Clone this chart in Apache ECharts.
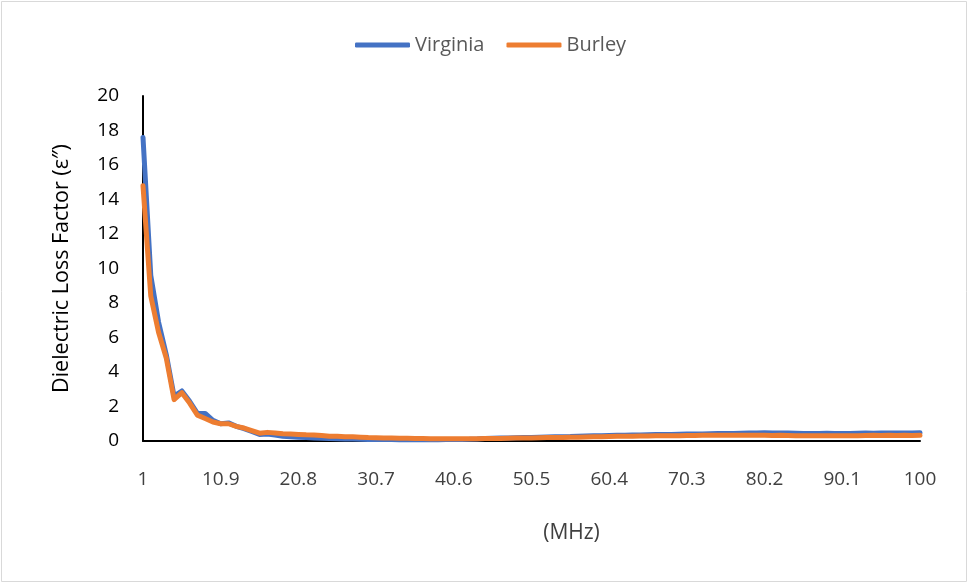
<!DOCTYPE html>
<html>
<head>
<meta charset="utf-8">
<script src="https://cdn.jsdelivr.net/npm/echarts@6/dist/echarts.min.js"></script>
<style>
  html, body { margin: 0; padding: 0; background: #fff; }
  #chart { width: 968px; height: 583px; }
</style>
</head>
<body>
<div id="chart"></div>
<script>
// x axis: 101 frequency points from 1 to 100 MHz, labels every 10th point
var tickLabels = ['1', '10.9', '20.8', '30.7', '40.6', '50.5', '60.4', '70.3', '80.2', '90.1', '100'];
var freqs = [];
for (var i = 0; i <= 100; i++) freqs.push(+(1 + 0.99 * i).toFixed(2));

// loss factor
var virginia = [
  17.6, 9.6, 6.9, 5.0, 2.6, 2.9, 2.3, 1.6, 1.6, 1.2,
  1.0, 1.05, 0.85, 0.72, 0.55, 0.38, 0.4, 0.35, 0.28, 0.25,
  0.22, 0.2, 0.18, 0.16, 0.14, 0.13, 0.12, 0.11, 0.1, 0.09,
  0.09, 0.08, 0.08, 0.07, 0.07, 0.07, 0.07, 0.07, 0.07, 0.08,
  0.08, 0.09, 0.1, 0.12, 0.15, 0.16, 0.17, 0.18, 0.19, 0.2,
  0.21, 0.22, 0.23, 0.24, 0.25, 0.26, 0.28, 0.29, 0.3, 0.31,
  0.32, 0.33, 0.34, 0.35, 0.35, 0.36, 0.37, 0.38, 0.38, 0.39,
  0.4, 0.41, 0.41, 0.42, 0.43, 0.44, 0.44, 0.45, 0.46, 0.47,
  0.48, 0.47, 0.46, 0.46, 0.45, 0.44, 0.43, 0.44, 0.45, 0.44,
  0.43, 0.44, 0.45, 0.46, 0.45, 0.46, 0.47, 0.46, 0.47, 0.46,
  0.48
];
var burley = [
  14.8, 8.4, 6.3, 4.8, 2.4, 2.8, 2.2, 1.5, 1.3, 1.1,
  1.0, 1.0, 0.85, 0.75, 0.6, 0.45, 0.5, 0.47, 0.42, 0.4,
  0.38, 0.36, 0.35, 0.32, 0.28, 0.27, 0.25, 0.24, 0.22, 0.2,
  0.19, 0.18, 0.17, 0.16, 0.16, 0.15, 0.14, 0.13, 0.13, 0.13,
  0.13, 0.13, 0.13, 0.13, 0.14, 0.14, 0.15, 0.16, 0.17, 0.17,
  0.18, 0.19, 0.2, 0.2, 0.21, 0.22, 0.22, 0.23, 0.24, 0.25,
  0.26, 0.27, 0.27, 0.28, 0.29, 0.29, 0.3, 0.3, 0.31, 0.31,
  0.32, 0.32, 0.33, 0.33, 0.33, 0.34, 0.34, 0.33, 0.34, 0.33,
  0.33, 0.32, 0.33, 0.32, 0.31, 0.3, 0.31, 0.3, 0.31, 0.3,
  0.3, 0.31, 0.31, 0.32, 0.33, 0.32, 0.33, 0.32, 0.33, 0.32,
  0.33
];

var font = 'Open Sans';
var chart = echarts.init(document.getElementById('chart'));
chart.setOption({
  animation: false,
  backgroundColor: '#fff',
  graphic: [{
    type: 'rect', silent: true,
    shape: { x: 1.5, y: 1.5, width: 965, height: 580 },
    style: { fill: 'none', stroke: '#d9d9d9', lineWidth: 1 }
  }],
  legend: {
    left: 350, top: 30,
    itemWidth: 55, itemHeight: 5, itemGap: 22,
    icon: 'roundRect',
    textStyle: { fontFamily: font, fontSize: 20, color: '#595959' },
    data: ['Virginia', 'Burley']
  },
  grid: { left: 143, right: 48, top: 96, bottom: 142 },
  xAxis: {
    type: 'category',
    data: freqs,
    boundaryGap: false,
    name: '(MHz)',
    nameLocation: 'middle',
    nameGap: 82,
    nameTextStyle: { fontFamily: font, fontSize: 21, color: '#404040', padding: [0, 0, 0, 80] },
    axisLine: { lineStyle: { color: '#000', width: 2 } },
    axisTick: { show: false },
    axisLabel: {
      interval: 9, margin: 29,
      fontFamily: font, fontSize: 19, color: '#404040',
      formatter: function (v, idx) { return tickLabels[idx / 10]; }
    },
    splitLine: { show: false }
  },
  yAxis: {
    type: 'value',
    min: 0, max: 20, interval: 2,
    name: 'Dielectric Loss Factor (\u03b5\u2033)',
    nameLocation: 'middle',
    nameGap: 70,
    nameTextStyle: { fontFamily: font, fontSize: 21.5, color: '#000' },
    axisLine: { show: true, lineStyle: { color: '#000', width: 2 } },
    axisTick: { show: false },
    axisLabel: { margin: 24, fontFamily: font, fontSize: 19, color: '#000' },
    splitLine: { show: false }
  },
  series: [
    {
      name: 'Virginia', type: 'line', data: virginia,
      showSymbol: false, symbol: 'none',
      itemStyle: { color: '#4472C4' },
      lineStyle: { color: '#4472C4', width: 5, join: 'round', cap: 'round' }
    },
    {
      name: 'Burley', type: 'line', data: burley,
      showSymbol: false, symbol: 'none',
      itemStyle: { color: '#ED7D31' },
      lineStyle: { color: '#ED7D31', width: 5, join: 'round', cap: 'round' }
    }
  ]
});
</script>
</body>
</html>
